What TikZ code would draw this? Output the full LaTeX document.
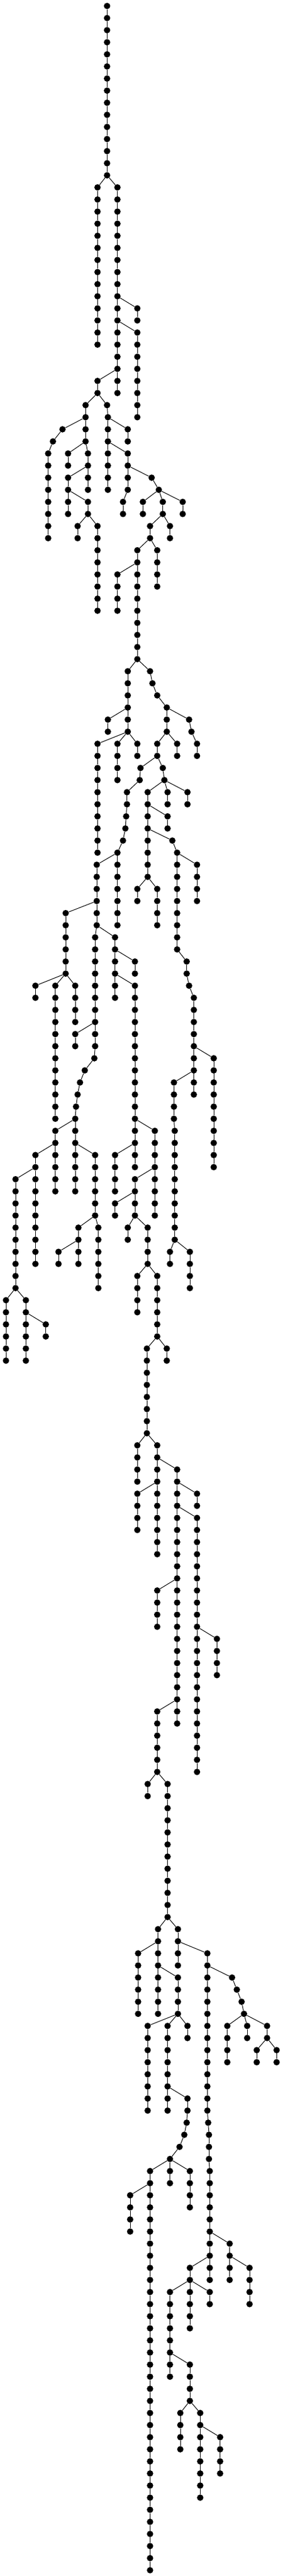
\documentclass[tikz,border=0pt]{standalone}

\newcount\treelevel
% parent level, parent x, then runs of x/number of nodes
\newcommand{\subtree}[3]{
  \global\treelevel=#1\relax
  \xdef\lastnode{n#1x#2}
  \foreach \x/\n in {#3} {
    \foreach \i in {1,...,\n} {
      \global\advance\treelevel by 1\relax
      \node [dot] (n\the\treelevel x\x) at (\x, -\the\treelevel) {};
      \draw [edge] (\lastnode) -- (n\the\treelevel x\x);
      \xdef\lastnode{n\the\treelevel x\x}
    }
  }
}
\tikzset{
  dot/.style={circle, fill=black, inner sep=0pt, minimum size=10.7pt},
  edge/.style={line width=1pt, black},
}

\begin{document}
\begin{tikzpicture}[x=0.33333pt, y=20.27pt]
  \useasboundingbox (0, 0.4933) rectangle (1422, -212.48);
  \node [dot] (n0x538) at (538, 0) {};
  \subtree{0}{538}{538/14}
  \subtree{14}{538}{490/14}
  \subtree{14}{538}{590/18}
  \subtree{24}{590}{690/2}
  \subtree{26}{590}{690/8}
  \subtree{30}{590}{490/2}
  \subtree{32}{490}{430/2}
  \subtree{32}{490}{538/1, 542/1}
  \subtree{34}{430}{314/1, 266/1, 242/8}
  \subtree{34}{430}{430/2}
  \subtree{36}{430}{342/2}
  \subtree{36}{430}{442/2}
  \subtree{38}{442}{342/2}
  \subtree{38}{442}{442/2}
  \subtree{40}{342}{342/2}
  \subtree{40}{342}{442/2}
  \subtree{42}{442}{390/2}
  \subtree{42}{442}{490/8}
  \subtree{34}{542}{542/2}
  \subtree{34}{542}{642/2}
  \subtree{36}{542}{542/4}
  \subtree{36}{542}{642/2}
  \subtree{38}{642}{642/2, 618/2}
  \subtree{38}{642}{762/1, 798/1}
  \subtree{40}{798}{718/2}
  \subtree{40}{798}{918/2}
  \subtree{40}{798}{818/2}
  \subtree{42}{818}{854/2}
  \subtree{42}{818}{754/2}
  \subtree{44}{754}{790/4}
  \subtree{44}{754}{690/2}
  \subtree{46}{690}{590/4}
  \subtree{46}{690}{690/8}
  \subtree{54}{690}{642/4}
  \subtree{54}{690}{754/1, 766/1, 790/1, 838/1}
  \subtree{58}{642}{542/2}
  \subtree{58}{642}{642/2}
  \subtree{60}{642}{690/2}
  \subtree{60}{642}{590/4}
  \subtree{60}{642}{490/10}
  \subtree{58}{838}{950/1, 962/1, 990/2}
  \subtree{58}{838}{838/2}
  \subtree{60}{838}{890/2}
  \subtree{60}{838}{790/2}
  \subtree{62}{790}{706/1, 702/1, 638/2, 634/1, 630/1, 618/1, 590/1}
  \subtree{62}{790}{818/1, 826/1}
  \subtree{64}{826}{842/2}
  \subtree{64}{826}{942/2}
  \subtree{64}{826}{742/2}
  \subtree{66}{742}{842/2}
  \subtree{66}{742}{742/2}
  \subtree{68}{742}{742/4}
  \subtree{68}{742}{866/1, 890/1}
  \subtree{72}{742}{690/2}
  \subtree{72}{742}{790/4}
  \subtree{70}{890}{990/4}
  \subtree{70}{890}{890/8, 938/2, 950/1, 974/5}
  \subtree{86}{974}{1074/10}
  \subtree{86}{974}{974/2}
  \subtree{88}{974}{974/2}
  \subtree{88}{974}{874/4, 878/10}
  \subtree{102}{878}{854/2}
  \subtree{102}{878}{954/4}
  \subtree{70}{590}{590/6}
  \subtree{70}{590}{486/4}
  \subtree{74}{486}{486/2}
  \subtree{74}{486}{330/6}
  \subtree{80}{330}{178/2}
  \subtree{80}{330}{378/4}
  \subtree{80}{330}{278/12}
  \subtree{76}{486}{478/8}
  \subtree{76}{486}{578/2}
  \subtree{78}{578}{578/2}
  \subtree{78}{578}{678/2}
  \subtree{80}{578}{578/2}
  \subtree{80}{578}{678/12}
  \subtree{84}{478}{378/2}
  \subtree{84}{478}{478/2, 474/1, 426/1, 402/1, 390/1, 382/1, 378/1}
  \subtree{92}{378}{278/2}
  \subtree{92}{378}{378/2}
  \subtree{94}{278}{278/4}
  \subtree{94}{278}{178/2}
  \subtree{96}{178}{178/8}
  \subtree{96}{178}{78/10}
  \subtree{106}{78}{30/6}
  \subtree{106}{78}{130/2}
  \subtree{108}{130}{130/4}
  \subtree{108}{130}{230/2}
  \subtree{94}{378}{378/4}
  \subtree{94}{378}{478/6}
  \subtree{100}{478}{494/6}
  \subtree{100}{478}{394/2}
  \subtree{102}{394}{294/2}
  \subtree{102}{394}{394/2}
  \subtree{92}{678}{678/2}
  \subtree{92}{678}{778/4}
  \subtree{94}{678}{678/2}
  \subtree{94}{678}{578/4}
  \subtree{96}{778}{778/4}
  \subtree{96}{778}{678/2}
  \subtree{98}{678}{578/2}
  \subtree{98}{678}{678/2}
  \subtree{100}{678}{642/2}
  \subtree{100}{678}{742/4}
  \subtree{104}{742}{690/4}
  \subtree{104}{742}{790/6}
  \subtree{110}{790}{838/2}
  \subtree{110}{790}{738/8}
  \subtree{118}{738}{690/4}
  \subtree{118}{738}{790/2}
  \subtree{120}{790}{790/2}
  \subtree{120}{790}{890/2}
  \subtree{122}{790}{690/4}
  \subtree{122}{790}{790/6}
  \subtree{122}{890}{890/2}
  \subtree{122}{890}{990/2}
  \subtree{124}{890}{890/6}
  \subtree{124}{890}{990/10}
  \subtree{130}{890}{790/4}
  \subtree{130}{890}{890/10}
  \subtree{134}{990}{1090/4}
  \subtree{134}{990}{990/12}
  \subtree{140}{890}{890/2}
  \subtree{140}{890}{790/6}
  \subtree{146}{790}{742/2}
  \subtree{146}{790}{842/12}
  \subtree{158}{842}{794/2}
  \subtree{158}{842}{894/2}
  \subtree{160}{794}{694/6}
  \subtree{160}{794}{794/2}
  \subtree{162}{794}{794/4}
  \subtree{162}{794}{894/4}
  \subtree{166}{894}{942/2}
  \subtree{166}{894}{742/8}
  \subtree{166}{894}{842/6}
  \subtree{172}{842}{842/2}
  \subtree{172}{842}{942/2, 938/1, 926/1, 902/1, 854/1}
  \subtree{178}{854}{854/2}
  \subtree{178}{854}{954/4}
  \subtree{178}{854}{754/2}
  \subtree{180}{754}{654/4}
  \subtree{180}{754}{754/32}
  \subtree{160}{894}{894/2}
  \subtree{160}{894}{1042/2}
  \subtree{162}{1042}{1166/1, 1190/1, 1214/1, 1226/1}
  \subtree{166}{1226}{1242/2}
  \subtree{166}{1226}{1142/4}
  \subtree{166}{1226}{1342/2}
  \subtree{168}{1342}{1290/2}
  \subtree{168}{1342}{1390/2}
  \subtree{162}{1042}{1042/12, 1046/1, 1050/3, 1054/6}
  \subtree{184}{1054}{1054/2}
  \subtree{184}{1054}{1154/2}
  \subtree{186}{1154}{1154/2}
  \subtree{186}{1154}{1254/4}
  \subtree{186}{1054}{1054/2}
  \subtree{186}{1054}{954/2}
  \subtree{188}{954}{1054/2}
  \subtree{188}{954}{954/4}
  \subtree{188}{954}{854/6}
  \subtree{194}{854}{854/2}
  \subtree{194}{854}{954/4}
  \subtree{198}{954}{906/4}
  \subtree{198}{954}{1006/2}
  \subtree{200}{1006}{1006/6}
  \subtree{200}{1006}{1106/4}
\end{tikzpicture}
\end{document}
